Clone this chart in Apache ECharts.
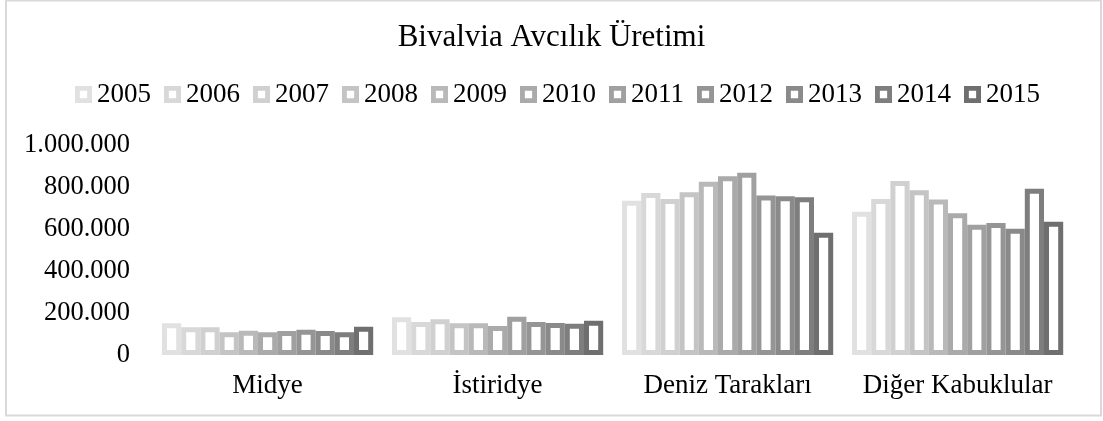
<!DOCTYPE html>
<html>
<head>
<meta charset="utf-8">
<title>Bivalvia Avcılık Üretimi</title>
<script src="https://cdn.jsdelivr.net/npm/echarts@6/dist/echarts.min.js"></script>
<style>
  html, body { margin: 0; padding: 0; background: #fff; }
  #chart { width: 1103px; height: 421px; }
</style>
</head>
<body>
<div id="chart"></div>
<script>
// kategoriler ve yıllar
const categories = ["Midye", "İstiridye", "Deniz Tarakları", "Diğer Kabuklular"];
const years = ["2005", "2006", "2007", "2008", "2009", "2010", "2011", "2012", "2013", "2014", "2015"];

// her yıl için [Midye, İstiridye, Deniz Tarakları, Diğer Kabuklular] (ton)
const y2005 = [151000, 180000, 735000, 682000];
const y2006 = [132000, 157000, 771000, 743000];
const y2007 = [132000, 170000, 743000, 829000];
const y2008 = [108000, 151000, 775000, 784000];
const y2009 = [116000, 151000, 825000, 741000];
const y2010 = [108000, 138000, 851000, 675000];
const y2011 = [114000, 182000, 868000, 620000];
const y2012 = [120000, 157000, 760000, 629000];
const y2013 = [114000, 152000, 756000, 601000];
const y2014 = [108000, 149000, 751000, 792000];
const y2015 = [135000, 163000, 582000, 635000];
const seriesValues = [y2005, y2006, y2007, y2008, y2009, y2010, y2011, y2012, y2013, y2014, y2015];

// y ekseni
const yTicks = [0, 200000, 400000, 600000, 800000, 1000000];

// gri tonlar (açıktan koyuya)
const colors = ["#e1e1e1", "#d8d8d8", "#d0d0d0", "#c4c4c4", "#b9b9b9", "#aaaaaa",
  "#a0a0a0", "#959595", "#8a8a8a", "#7e7e7e", "#6f6f6f"];

const font = "'Liberation Serif', 'Times New Roman', serif";

// binlik ayırıcı olarak nokta
function formatNumber(v) {
  return String(v).replace(/\B(?=(\d{3})+(?!\d))/g, ".");
}

const chart = echarts.init(document.getElementById("chart"), null, { renderer: "canvas" });

const option = {
  backgroundColor: "#fff",
  animation: false,
  textStyle: { fontFamily: font, color: "#000" },
  title: {
    text: "Bivalvia Avcılık Üretimi",
    left: "center",
    top: 17,
    textStyle: {
      fontFamily: font,
      fontSize: 31,
      fontWeight: "normal",
      color: "#000",
    },
  },
  legend: {
    left: 70,
    top: 76,
    itemWidth: 17,
    itemHeight: 17,
    itemGap: 13,
    // kare içinde beyaz kare
    icon: "path://M0,0H14V14H0Z M4,4V10H10V4Z",
    data: years.map((y, i) => ({
      name: y,
      itemStyle: { color: colors[i], borderWidth: 0 },
    })),
    textStyle: {
      fontFamily: font,
      fontSize: 27,
      color: "#000",
    },
  },
  grid: {
    left: 152.6,
    right: 30.4,
    top: 145,
    bottom: 66,
    containLabel: false,
  },
  xAxis: {
    type: "category",
    data: categories,
    axisLine: { show: false },
    axisTick: { show: false },
    axisLabel: {
      interval: 0,
      margin: 17,
      fontFamily: font,
      fontSize: 27,
      color: "#000",
    },
  },
  yAxis: {
    type: "value",
    min: yTicks[0],
    max: yTicks[yTicks.length - 1],
    interval: yTicks[1] - yTicks[0],
    axisLine: { show: false },
    axisTick: { show: false },
    splitLine: { show: false },
    axisLabel: {
      margin: 22.6,
      fontFamily: font,
      fontSize: 26.5,
      color: "#000",
      formatter: (v) => formatNumber(v),
    },
  },
  series: years.map((y, i) => ({
    name: y,
    type: "bar",
    data: seriesValues[i],
    barWidth: 19.2,
    barGap: 0,
    itemStyle: {
      color: "#fff",
      borderColor: colors[i],
      borderWidth: 5,
    },
  })),
  graphic: [
    {
      type: "rect",
      z: -10,
      silent: true,
      shape: { x: 6, y: 0.5, width: 1095, height: 415 },
      style: { fill: "none", stroke: "#d9d9d9", lineWidth: 2 },
    },
  ],
};

chart.setOption(option);
</script>
</body>
</html>
